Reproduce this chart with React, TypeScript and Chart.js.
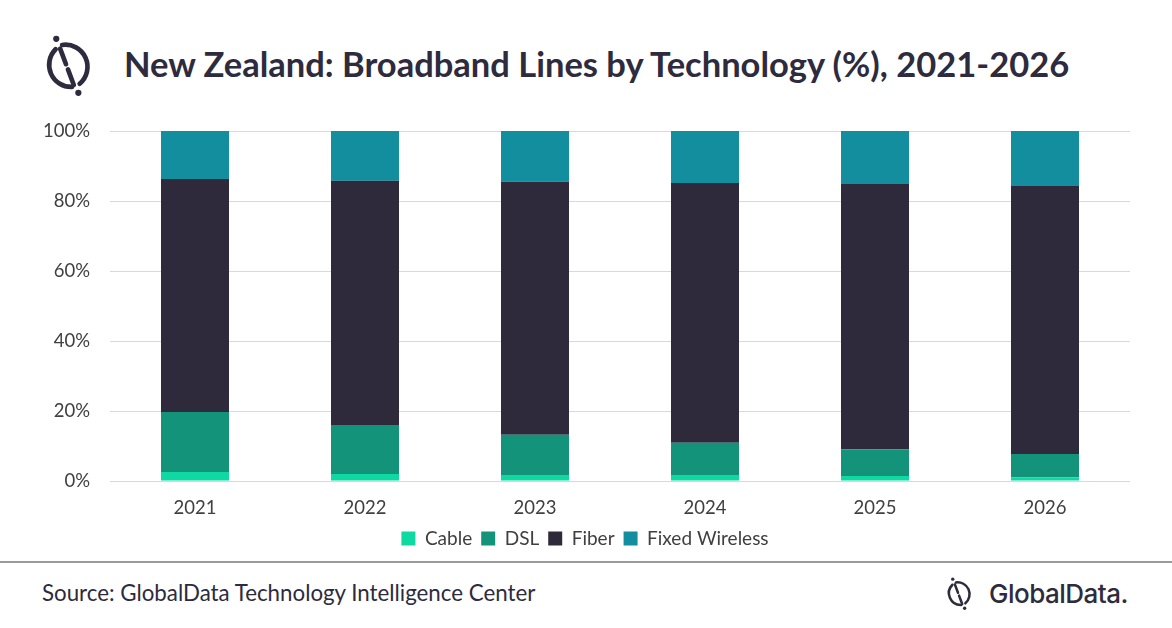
import React, { useEffect, useRef } from "react";
import { Chart, registerables } from "chart.js";

Chart.register(...registerables);

const categories = ["2021", "2022", "2023", "2024", "2025", "2026"];
const cable = [2.6, 2.0, 1.7, 1.7, 1.4, 1.1];
const dsl = [17.1, 14.0, 11.5, 9.2, 7.7, 6.6];
const fiber = [66.6, 69.8, 72.3, 74.3, 75.8, 76.6];
const fixedWireless = [13.7, 14.2, 14.5, 14.8, 15.1, 15.7];
const yTicks = [0, 20, 40, 60, 80, 100];

const TEXT_DARK = "#2d2b3d";
const FONT = "Lato, 'Noto Sans', sans-serif";

function Logo({ x, y, size }: { x: number; y: number; size: number }) {
  return (
    <svg
      style={{ position: "absolute", left: x, top: y }}
      width={size}
      height={size * 1.25}
      viewBox="0 0 40 50"
    >
      <g fill="none" stroke={TEXT_DARK} strokeWidth={3.6} strokeLinecap="round">
        <path d="M 12 12.5 A 17 17 0 0 0 24.5 41.5" />
        <path d="M 17 9.2 A 17 17 0 0 1 30.5 39" />
        <line x1="15.5" y1="12" x2="20" y2="24" />
        <line x1="21.5" y1="28" x2="26" y2="40" />
      </g>
      <circle cx="12.5" cy="4.5" r="2.4" fill={TEXT_DARK} />
      <circle cx="29.5" cy="46" r="2.4" fill={TEXT_DARK} />
    </svg>
  );
}

function BarChart() {
  const ref = useRef<HTMLCanvasElement | null>(null);
  useEffect(() => {
    if (!ref.current) return;
    const chart = new Chart(ref.current, {
      type: "bar",
      data: {
        labels: categories,
        datasets: [
          { label: "Cable", data: cable, backgroundColor: "#0fd9a3" },
          { label: "DSL", data: dsl, backgroundColor: "#14937b" },
          { label: "Fiber", data: fiber, backgroundColor: "#2e2a3c" },
          { label: "Fixed Wireless", data: fixedWireless, backgroundColor: "#128e9e" },
        ],
      },
      options: {
        animation: false,
        responsive: false,
        maintainAspectRatio: false,
        layout: { padding: { left: 40, right: 42, top: 0, bottom: 0 } },
        datasets: { bar: { categoryPercentage: 1, barPercentage: 0.4 } },
        plugins: {
          legend: {
            position: "bottom",
            labels: {
              color: "#404040",
              font: { family: FONT, size: 19 },
              boxWidth: 14,
              boxHeight: 14,
              padding: 9,
            },
          },
          tooltip: { enabled: false },
          title: { display: false },
        },
        scales: {
          x: {
            stacked: true,
            grid: { display: false, drawTicks: false },
            border: { display: false },
            afterFit: (s: any) => {
              s.height = 39;
            },
            ticks: { color: "#404040", font: { family: FONT, size: 18.5 }, padding: 16 },
          },
          y: {
            stacked: true,
            min: 0,
            max: 100,
            afterBuildTicks: (s: any) => {
              s.ticks = yTicks.map((v) => ({ value: v }));
            },
            afterFit: (s: any) => {
              s.width = 70;
            },
            grid: { color: "#d9d9d9", lineWidth: 1, drawTicks: false },
            border: { display: false },
            ticks: {
              color: "#404040",
              font: { family: FONT, size: 18.5 },
              padding: 20,
              callback: (v: any) => v + "%",
            },
          },
        },
      },
    });
    return () => chart.destroy();
  }, []);
  return (
    <canvas
      ref={ref}
      width={1172}
      height={458}
      style={{ position: "absolute", left: 0, top: 100, width: 1172, height: 458 }}
    />
  );
}

export default function App() {
  useEffect(() => {
    document.body.style.margin = "0";
  }, []);
  return (
    <div
      style={{
        position: "fixed",
        left: 0,
        top: 0,
        width: 1172,
        height: 628,
        background: "#ffffff",
        overflow: "hidden",
        fontFamily: FONT,
      }}
    >
      <Logo x={40} y={33} size={52} />
      <div
        style={{
          position: "absolute",
          left: 124,
          top: 42,
          fontSize: 34.5,
          fontWeight: 700,
          color: TEXT_DARK,
          whiteSpace: "nowrap",
          lineHeight: "44px",
        }}
      >
        New Zealand: Broadband Lines by Technology (%), 2021-2026
      </div>
      <BarChart />
      <div
        style={{
          position: "absolute",
          left: 0,
          top: 561,
          width: 1172,
          height: 2,
          background: "#9a9a9a",
        }}
      />
      <div
        style={{
          position: "absolute",
          left: 42,
          top: 579,
          fontSize: 22.3,
          color: TEXT_DARK,
          whiteSpace: "nowrap",
          lineHeight: "28px",
        }}
      >
        Source: GlobalData Technology Intelligence Center
      </div>
      <Logo x={944} y={576} size={28} />
      <div
        style={{
          position: "absolute",
          left: 989,
          top: 578,
          fontSize: 26,
          fontFamily: "Inter, 'Noto Sans', sans-serif",
          fontWeight: 500,
          color: TEXT_DARK,
          letterSpacing: -0.5,
          whiteSpace: "nowrap",
          lineHeight: "32px",
        }}
      >
        GlobalData.
      </div>
    </div>
  );
}
